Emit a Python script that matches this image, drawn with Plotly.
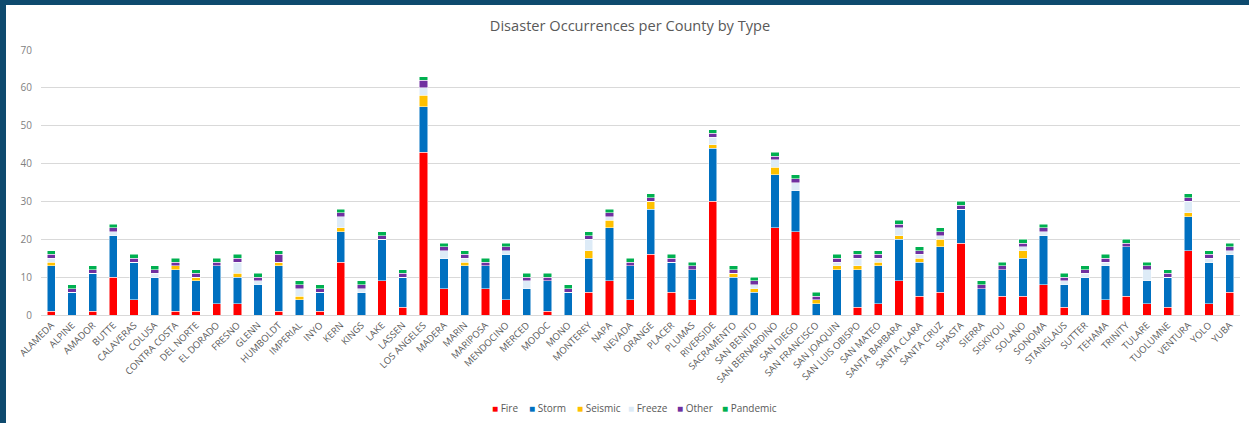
import plotly.graph_objects as go

counties = ["ALAMEDA", "ALPINE", "AMADOR", "BUTTE", "CALAVERAS", "COLUSA", "CONTRA COSTA",
            "DEL NORTE", "EL DORADO", "FRESNO", "GLENN", "HUMBOLDT", "IMPERIAL", "INYO", "KERN",
            "KINGS", "LAKE", "LASSEN", "LOS ANGELES", "MADERA", "MARIN", "MARIPOSA", "MENDOCINO",
            "MERCED", "MODOC", "MONO", "MONTEREY", "NAPA", "NEVADA", "ORANGE", "PLACER", "PLUMAS",
            "RIVERSIDE", "SACRAMENTO", "SAN BENITO", "SAN BERNARDINO", "SAN DIEGO", "SAN FRANCISCO",
            "SAN JOAQUIN", "SAN LUIS OBISPO", "SAN MATEO", "SANTA BARBARA", "SANTA CLARA",
            "SANTA CRUZ", "SHASTA", "SIERRA", "SISKIYOU", "SOLANO", "SONOMA", "STANISLAUS",
            "SUTTER", "TEHAMA", "TRINITY", "TULARE", "TUOLUMNE", "VENTURA", "YOLO", "YUBA"]

fire = [1, 0, 1, 10, 4, 0, 1, 1, 3, 3, 0, 1, 0, 1, 14, 0, 9, 2, 43, 7, 0, 7, 4, 0, 1, 0, 6, 9, 4,
        16, 6, 4, 30, 0, 0, 23, 22, 0, 0, 2, 3, 9, 5, 6, 19, 0, 5, 5, 8, 2, 0, 4, 5, 3, 2, 17, 3, 6]
storm = [12, 6, 10, 11, 10, 10, 11, 8, 10, 7, 8, 12, 4, 5, 8, 6, 11, 8, 12, 8, 13, 6, 12, 7, 8, 6,
         9, 14, 9, 12, 8, 8, 14, 10, 6, 14, 11, 3, 12, 10, 10, 11, 9, 12, 9, 7, 7, 10, 13, 6, 10,
         9, 13, 6, 8, 9, 11, 10]
seismic = [1, 0, 0, 0, 0, 0, 1, 1, 0, 1, 0, 1, 1, 0, 1, 0, 0, 0, 3, 0, 1, 0, 0, 0, 0, 0, 2, 2, 0,
           2, 0, 0, 1, 1, 1, 2, 0, 1, 1, 1, 1, 1, 1, 2, 0, 0, 0, 2, 0, 0, 0, 0, 0, 0, 0, 1, 0, 0]
freeze = [1, 0, 0, 1, 0, 1, 0, 0, 0, 3, 1, 0, 2, 0, 3, 1, 0, 0, 2, 2, 1, 0, 1, 2, 0, 0, 3, 1, 0,
          0, 0, 0, 2, 0, 1, 2, 2, 0, 1, 2, 1, 2, 1, 1, 0, 0, 0, 1, 1, 1, 1, 1, 0, 3, 0, 3, 1, 1]
other = [1] * 11 + [2] + [1] * 6 + [2] + [1] * 39
pandemic = [1] * 58

series = [("Fire", fire, "#FF0000"), ("Storm", storm, "#0070C0"), ("Seismic", seismic, "#FFC000"),
          ("Freeze", freeze, "#DDEBF7"), ("Other", other, "#7030A0"), ("Pandemic", pandemic, "#00B050")]

W, H = 1249, 423
ml, mr, mt, mb = 41, 9, 50, 108
pw, ph = W - ml - mr, H - mt - mb


def px2x(p):
    return (p - ml) / pw


def py2y(p):
    return (H - mb - p) / ph


fig = go.Figure()
for name, vals, col in series:
    fig.add_trace(go.Bar(x=counties, y=vals, name=name, showlegend=False,
                         marker=dict(color=col, line=dict(color="white", width=0.5))))

# legend drawn as text entries (Excel-style compact legend)
legend_x = [490, 527, 575, 626, 675, 720]
annotations = []
for (name, vals, col), lx in zip(series, legend_x):
    annotations.append(dict(
        xref="paper", yref="paper", x=px2x(lx), y=py2y(408), xanchor="left", yanchor="middle",
        showarrow=False, text=f"<span style='color:{col}'>■</span> {name}",
        font=dict(size=10, color="#595959", family="Open Sans")))

border = "#0E4A6E"
shapes = [
    dict(type="rect", xref="paper", yref="paper", x0=px2x(0), x1=px2x(W), y0=py2y(5), y1=py2y(0),
         fillcolor=border, line=dict(width=0), layer="above"),
    dict(type="rect", xref="paper", yref="paper", x0=px2x(0), x1=px2x(6), y0=py2y(H), y1=py2y(0),
         fillcolor=border, line=dict(width=0), layer="above"),
]

fig.update_layout(
    barmode="stack",
    bargap=0.6,
    width=W, height=H,
    margin=dict(l=ml, r=mr, t=mt, b=mb, autoexpand=False),
    paper_bgcolor="white", plot_bgcolor="white",
    font=dict(family="Open Sans", color="#595959", size=10),
    showlegend=False,
    title=dict(text="Disaster Occurrences per County by Type", x=630 / W,
               xanchor="center", y=1 - 26 / H, yanchor="middle",
               font=dict(size=14.6, color="#595959", family="Open Sans")),
    annotations=annotations,
    shapes=shapes,
    xaxis=dict(tickangle=-45, tickfont=dict(size=9.5, color="#595959"), showline=True,
               linecolor="#D9D9D9", linewidth=1, ticks="", showgrid=False, automargin=False),
    yaxis=dict(range=[0, 70], dtick=10, gridcolor="#D9D9D9", gridwidth=1, zeroline=False,
               tickfont=dict(size=10, color="#7F7F7F"), ticks="", showline=False,
               automargin=False, ticklabelstandoff=8),
)

fig.write_html("out.html")
